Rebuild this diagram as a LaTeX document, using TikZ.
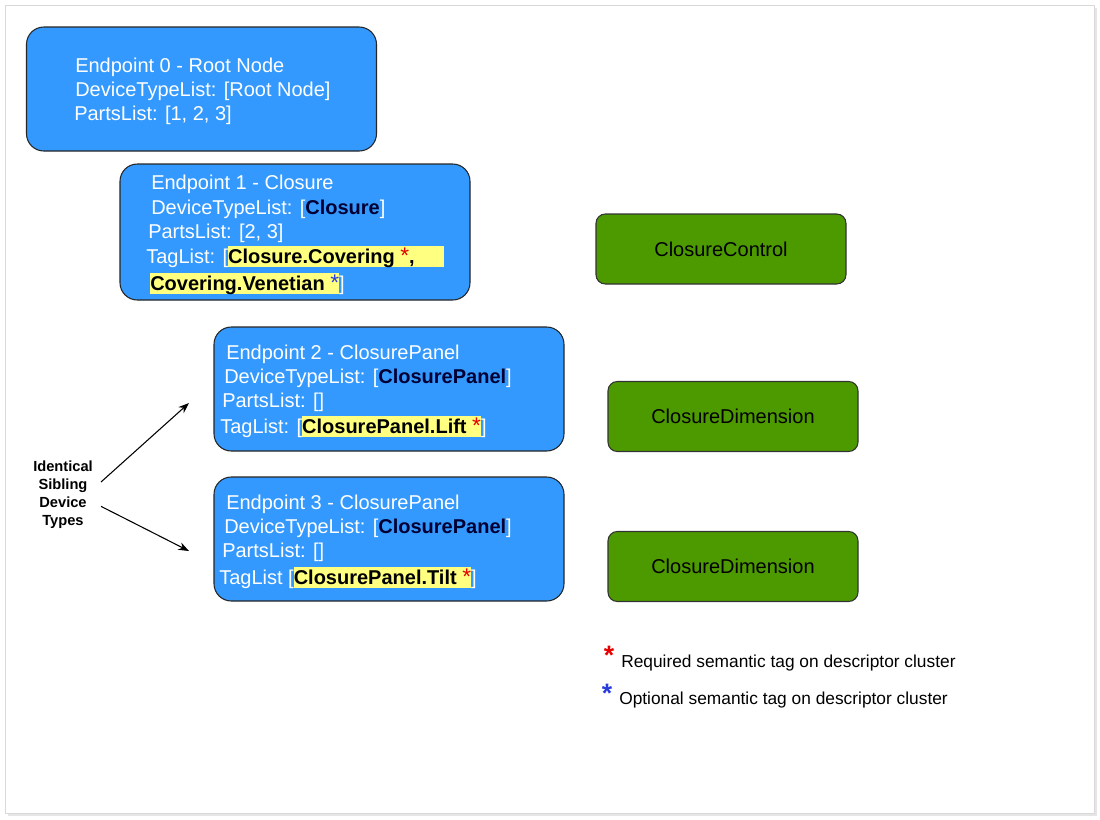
\documentclass[tikz,border=0pt]{standalone}
\usepackage{fontspec}
\setmainfont{Liberation Sans}
\usetikzlibrary{arrows.meta}

\definecolor{epblue}{RGB}{51,153,255}
\definecolor{clgreen}{RGB}{77,153,0}
\definecolor{hlyellow}{RGB}{255,255,128}
\definecolor{typenavy}{RGB}{0,0,51}
\definecolor{reqred}{RGB}{230,0,0}
\definecolor{optblue}{RGB}{40,60,220}

\newcommand{\taghl}[1]{{\setlength{\fboxsep}{0pt}\colorbox{hlyellow}{\rule[-3pt]{0pt}{15.75pt}#1}}}
\newcommand{\reqmark}{\textcolor{reqred}{\fontsize{17}{18}\selectfont*}}
\newcommand{\optmark}{\textcolor{optblue}{\fontsize{17}{18}\selectfont*}}
\newcommand{\devtype}[1]{\textcolor{typenavy}{\textbf{#1}}}

\begin{document}
\begin{tikzpicture}[x=0.75pt,y=-0.75pt,
    endpoint/.style={draw=black!85,fill=epblue,rounded corners=13pt,line width=0.8pt,
        minimum width=262.5pt,minimum height=93pt},
    cluster/.style={draw=black!80,fill=clgreen,rounded corners=7pt,line width=0.8pt,
        minimum width=187.5pt,minimum height=52.5pt,text=black,
        font=\fontsize{15}{17}\selectfont},
    eptext/.style={anchor=base west,inner sep=0pt,text=white,font=\fontsize{15}{18}\selectfont},
    legend/.style={anchor=base west,inner sep=0pt,font=\fontsize{13}{16}\selectfont}]

    \useasboundingbox (0,0) rectangle (1100,819);

    % Page
    \fill[black!10] (8,8) rectangle (1097,816);
    \draw[fill=white,draw=black!15] (5,5) rectangle (1094,813);

    % Endpoints
    \node[endpoint] (ep0) at (201.5,89) {};
    \node[endpoint,minimum height=102pt] (ep1) at (295,232) {};
    \node[endpoint] (ep2) at (389,389) {};
    \node[endpoint] (ep3) at (389,539) {};

    % Endpoint 0
    \node[eptext] (ep0name) at (75,72) {Endpoint 0 - Root Node};
    \node[eptext] (ep0type) at (75,96) {DeviceTypeList: [Root Node]};
    \node[eptext] (ep0parts) at (74,120) {PartsList: [1, 2, 3]};

    % Endpoint 1
    \node[eptext] (ep1name) at (151,189) {Endpoint 1 - Closure};
    \node[eptext] (ep1type) at (151,214) {DeviceTypeList: [\devtype{Closure}]};
    \node[eptext] (ep1parts) at (148,238) {PartsList: [2, 3]};
    \node[eptext] (ep1tags) at (146,263) {TagList: [\taghl{\textcolor{black}{\textbf{Closure.Covering} \reqmark\textbf{,}}\hspace{22pt}}};
    \node[eptext] (ep1tags2) at (150,290) {\taghl{\textcolor{black}{\textbf{Covering.Venetian}} \optmark}]};

    % Endpoint 2
    \node[eptext] (ep2name) at (226,359) {Endpoint 2 - ClosurePanel};
    \node[eptext] (ep2type) at (224,383) {DeviceTypeList: [\devtype{ClosurePanel}]};
    \node[eptext] (ep2parts) at (222,407) {PartsList: []};
    \node[eptext] (ep2tags) at (220,433) {TagList: [\taghl{\textcolor{black}{\textbf{ClosurePanel.Lift}} \reqmark}]};

    % Endpoint 3
    \node[eptext] (ep3name) at (226,509) {Endpoint 3 - ClosurePanel};
    \node[eptext] (ep3type) at (224,533) {DeviceTypeList: [\devtype{ClosurePanel}]};
    \node[eptext] (ep3parts) at (222,557) {PartsList: []};
    \node[eptext] (ep3tags) at (219,584) {TagList [\taghl{\textcolor{black}{\textbf{ClosurePanel.Tilt}} \reqmark}]};

    % Clusters
    \node[cluster] (ctrl) at (721,249) {ClosureControl};
    \node[cluster] (dim2) at (733,416.5) {ClosureDimension};
    \node[cluster] (dim3) at (733,566.5) {ClosureDimension};

    % Siblings
    \node[align=center,inner sep=4.5pt,font=\fontsize{11}{13.5}\selectfont\bfseries] (siblings) at (63,495)
        {Identical\\Sibling\\Device\\Types};
    \coordinate (tip2) at (189,403);
    \coordinate (tip3) at (189,551);
    \draw[-{Stealth[length=8pt,width=6pt]},line width=0.8pt] ([xshift=1.5pt,yshift=9.75pt]siblings.east) -- (tip2);
    \draw[-{Stealth[length=8pt,width=6pt]},line width=0.8pt] ([xshift=1.5pt,yshift=-8.5pt]siblings.east) -- (tip3);

    % Legend
    \node[inner sep=0pt,text=reqred,font=\fontsize{20}{20}\selectfont\bfseries] (reqstar) at (609,655) {*};
    \node[legend] (reqtext) at (621,667) {Required semantic tag on descriptor cluster};
    \node[inner sep=0pt,text=optblue,font=\fontsize{20}{20}\selectfont\bfseries] (optstar) at (607,693) {*};
    \node[legend] (opttext) at (619,704) {Optional semantic tag on descriptor cluster};

\end{tikzpicture}
\end{document}
